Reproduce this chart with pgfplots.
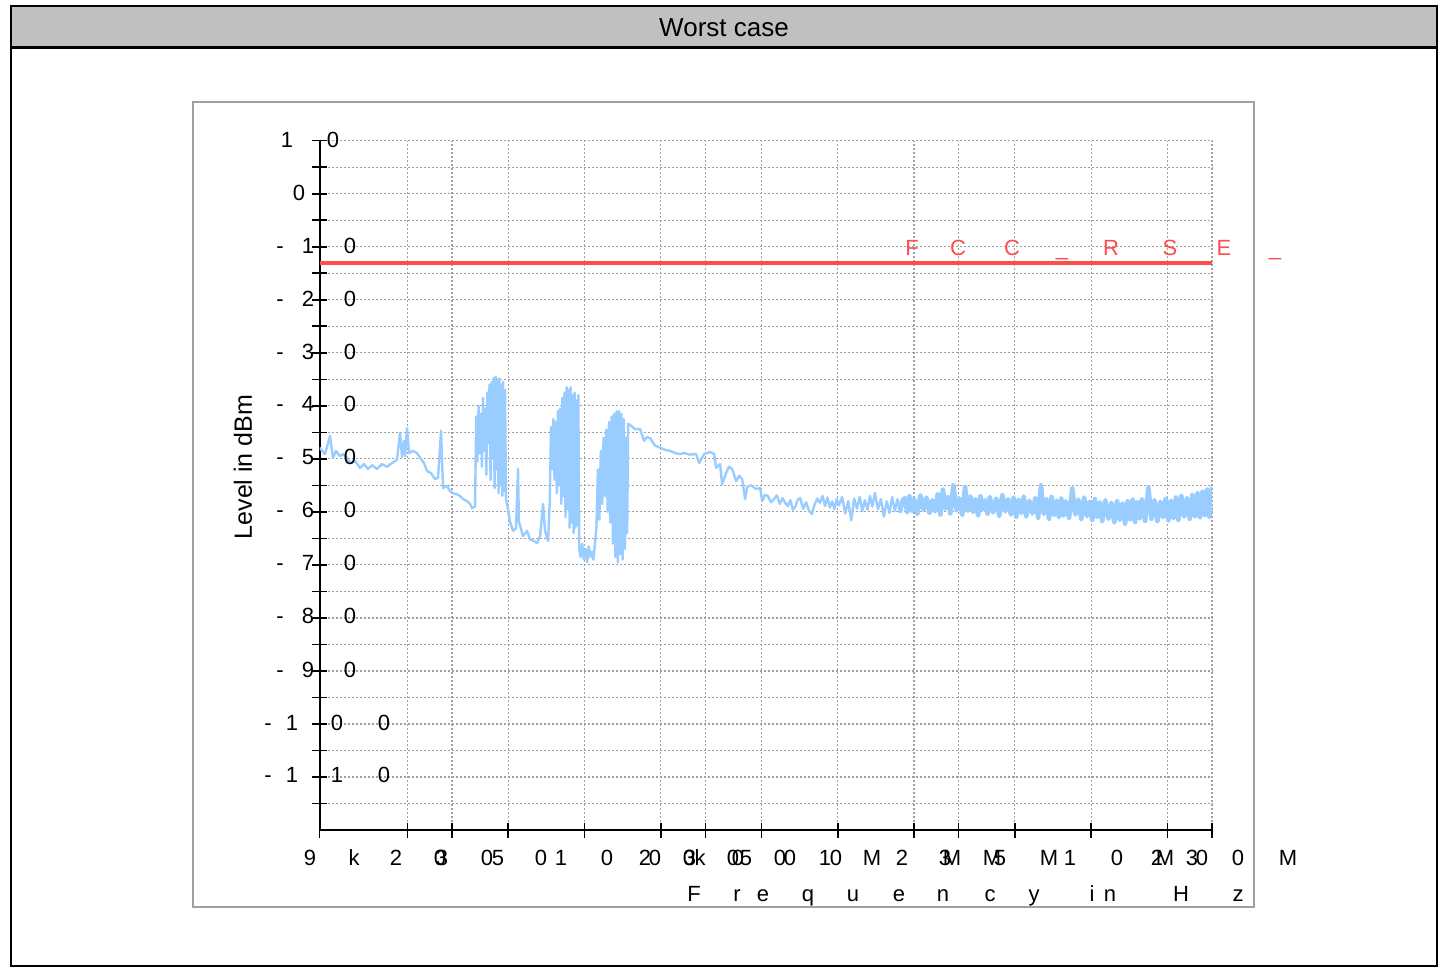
\documentclass[border=0pt]{standalone}
\usepackage{pgfplots}
\usepackage{pgfplotstable}
\pgfplotsset{compat=1.18}
\usepackage{fontspec}
\setmainfont{Liberation Sans}
\definecolor{traceblue}{RGB}{153,204,255}
\definecolor{limitred}{RGB}{255,77,77}
\definecolor{bargray}{RGB}{192,192,192}
\definecolor{gridgray}{RGB}{160,160,160}
\definecolor{panelgray}{RGB}{160,160,160}

% worst case trace, f in kHz, level in dBm: 9 kHz .. 1.8 MHz
\pgfplotstableread{
f L
9.0 -47.9
9.46 -49.1
9.90 -45.7
10.17 -49.8
10.45 -48.5
10.84 -49.5
11.14 -49.1
11.56 -49.8
11.87 -50.8
12.43 -50.4
13.01 -51.7
13.49 -51.0
13.98 -51.9
14.51 -51.2
15.18 -51.9
15.89 -51.0
16.62 -51.5
17.39 -50.8
18.20 -50.2
18.71 -45.1
19.05 -49.6
19.40 -46.6
19.60 -49.5
19.94 -44.2
20.30 -48.9
21.05 -48.5
21.83 -48.9
22.44 -49.8
23.27 -50.8
23.91 -52.3
24.80 -52.7
25.72 -53.8
26.43 -53.6
27.16 -44.7
27.66 -55.5
28.69 -55.1
29.47 -56.1
30.29 -56.5
31.41 -56.7
32.28 -57.0
33.18 -57.6
34.40 -58.0
35.35 -58.5
36.01 -59.3
37.0 -59.0
37.4 -42.0
37.8 -50.5
38.2 -40.0
38.6 -49.0
39.0 -41.5
39.4 -51.5
39.8 -38.5
40.2 -48.5
40.6 -40.5
41.0 -53.0
41.4 -37.5
41.8 -47.0
42.2 -36.0
42.6 -54.0
43.0 -35.5
43.4 -50.0
43.8 -34.8
44.2 -55.5
44.6 -34.5
45.0 -52.0
45.4 -35.0
45.8 -56.5
46.2 -34.8
46.6 -55.0
47.0 -36.0
47.4 -57.0
47.8 -35.5
48.2 -56.0
48.6 -37.0
49.0 -57.6
49.5 -58.5
50.8 -61.8
52.26 -63.6
53.7 -63.1
54.68 -51.9
55.1 -61.8
57.23 -64.6
59.35 -63.6
61.0 -65.2
63.2 -65.5
65.0 -65.9
66.8 -64.6
68.66 -58.5
69.9 -63.6
71.84 -65.5
73.0 -58.0
73.8 -44.0
74.6 -52.0
75.4 -42.5
76.2 -54.0
77.0 -43.0
77.8 -56.5
78.6 -41.0
79.4 -55.0
80.2 -40.5
81.0 -58.5
81.8 -38.5
82.6 -57.0
83.4 -37.5
84.2 -61.0
85.0 -36.5
85.8 -59.5
86.6 -37.0
87.4 -63.0
88.2 -36.5
89.0 -62.0
89.8 -38.0
90.6 -64.0
91.4 -37.5
92.2 -63.0
93.0 -39.0
93.8 -62.5
94.6 -38.0
95.4 -67.0
96.5 -68.5
98.0 -66.0
99.5 -69.0
101.0 -67.0
102.5 -69.5
104.0 -66.5
105.5 -68.5
107.0 -67.5
108.5 -69.0
110.0 -66.0
111.5 -63.0
113.0 -52.0
114.5 -61.5
116.0 -48.5
117.5 -58.5
119.0 -46.0
120.5 -57.0
122.0 -44.5
123.5 -60.0
125.0 -43.0
126.5 -62.0
128.0 -42.0
129.5 -66.0
131.0 -41.5
132.5 -68.5
134.0 -41.0
135.5 -69.5
137.0 -41.0
138.5 -68.0
140.0 -41.5
141.5 -69.0
143.0 -42.5
144.5 -67.0
146.0 -46.0
147.5 -64.0
148.7 -43.4
151.4 -43.6
158.5 -44.4
165.8 -44.4
171.9 -46.6
176.5 -45.9
181.6 -46.1
190.0 -47.5
198.9 -47.9
208.0 -48.3
217.8 -48.5
228.0 -48.9
238.6 -49.1
247.4 -48.9
260.0 -49.2
276.0 -49.1
283.6 -50.8
296.8 -49.1
313.4 -48.7
324.9 -49.1
330.9 -51.7
343.1 -51.0
349.4 -54.8
362.4 -52.7
372.0 -51.5
382.7 -51.9
396.9 -54.2
408.0 -53.2
419.2 -53.8
430.8 -57.6
438.7 -55.3
455.0 -55.0
476.0 -55.7
493.6 -55.5
503 -58.0
515 -56.8
530 -57.0
545 -58.2
560 -57.6
575 -56.9
590 -58.5
605 -57.4
620 -58.3
635 -58.9
650 -57.8
665 -59.6
680 -59.0
695 -57.7
710 -57.4
730 -59.4
750 -58.2
770 -59.8
790 -60.4
810 -58.6
830 -57.5
850 -58.3
870 -57.0
890 -58.9
910 -57.3
930 -59.2
950 -58.0
970 -59.5
990 -57.6
1010 -58.8
1040 -57.2
1070 -60.3
1100 -58.0
1130 -61.6
1160 -57.5
1190 -59.4
1220 -57.2
1250 -59.8
1280 -57.8
1310 -59.6
1340 -57.0
1370 -59.0
1400 -56.4
1440 -59.5
1480 -57.6
1520 -60.9
1560 -58.0
1600 -60.2
1640 -57.2
1680 -59.8
1720 -57.6
1760 -60.1
1800 -57.9
}\tracelow

% 1.8 MHz .. 30 MHz, dense noise band
\pgfplotstableread{
f L
1760 -60.1
1800 -57.9
1840 -57.4
1880 -60.1
1920 -57.0
1960 -59.8
2000 -57.6
2060 -60.4
2120 -56.9
2180 -59.6
2240 -57.3
2300 -60.2
2360 -57.8
2420 -59.9
2480 -56.6
2540 -60.5
2600 -55.8
2660 -59.4
2720 -57.2
2780 -60.3
2860 -55.0
2940 -59.7
3020 -57.5
3100 -60.6
3180 -55.3
3260 -59.8
3340 -57.1
3420 -60.0
3500 -57.6
3580 -60.7
3660 -57.0
3740 -59.5
3820 -57.8
3900 -60.4
3980 -57.2
4100 -60.1
4220 -57.5
4340 -60.8
4460 -56.8
4580 -59.9
4700 -57.6
4820 -60.5
4940 -57.3
5060 -61.0
5180 -57.7
5300 -60.2
5420 -57.1
5540 -60.9
5700 -57.9
5860 -60.3
6020 -57.4
6180 -61.1
6340 -55.0
6500 -60.4
6660 -57.6
6820 -61.3
6980 -57.2
7140 -60.6
7300 -57.9
7460 -61.0
7620 -57.5
7780 -60.7
7940 -58.0
8180 -61.2
8420 -55.6
8660 -60.5
8900 -57.7
9140 -61.4
9380 -57.3
9620 -60.8
9860 -58.1
10100 -61.6
10340 -57.6
10580 -61.0
10820 -58.2
11060 -61.8
11380 -57.8
11700 -61.3
12020 -58.3
12340 -62.0
12660 -57.9
12980 -61.5
13300 -58.4
13620 -62.2
13940 -58.0
14260 -61.4
14580 -57.7
14900 -61.9
15220 -58.2
15540 -61.2
15860 -57.6
16340 -61.7
16820 -55.4
17300 -61.3
17780 -57.8
18260 -61.8
18740 -58.1
19220 -61.0
19700 -57.5
20180 -61.6
20660 -57.9
21140 -61.2
21620 -57.3
22100 -61.5
22700 -57.0
23300 -60.9
23900 -57.4
24500 -61.3
25100 -56.8
25700 -60.8
26300 -56.5
26900 -61.0
27500 -56.2
28100 -60.6
28700 -55.8
29300 -60.9
29900 -55.6
30000 -60.0
}\tracehigh

\begin{document}
\begin{tikzpicture}
\tikzset{tl/.style={anchor=base, inner sep=0pt, font=\fontsize{11}{13}\selectfont}}
% frame and title bar, in pixel units
\begin{scope}[x=0.5pt,y=-0.5pt]
\useasboundingbox (0,0) rectangle (1445,967);
\fill[white] (0,0) rectangle (1445,967);
\fill[bargray] (11,6) rectangle (1437,48);
\draw[black, line width=1.5pt] (11,48) -- (1437,48);
\draw[black, line width=1pt] (11,6) rectangle (1437,966);
\node[font=\fontsize{13}{15}\selectfont] at (724,28) {Worst case};
\draw[panelgray, line width=1pt] (193,102) rectangle (1254,907);
\end{scope}

\begin{axis}[
  at={(159.75pt,-415pt)}, anchor=south west,
  scale only axis, width=446.25pt, height=344.65pt,
  xmode=log, xmin=9, xmax=30000, ymin=-120, ymax=10,
  axis lines=left,
  axis line style={-, black, line width=1pt},
  every outer x axis line/.append style={-},
  every outer y axis line/.append style={-},
  xtick={9,20,30,50,100,200,300,500,1000,2000,3000,5000,10000,20000,30000},
  minor xtick={},
  ytick={-110,-100,...,10},
  minor ytick={-115,-105,...,5},
  xticklabels={}, yticklabels={},
  tick align=center,
  major tick length=7.5pt, minor tick length=7.5pt,
  every tick/.style={black, line width=0.8pt},
  grid=both,
  major grid style={gridgray, line width=0.6pt, dash pattern=on 1pt off 1pt},
  minor grid style={gridgray, line width=0.6pt, dash pattern=on 1pt off 1pt},
]
\addplot[limitred, line width=2pt] coordinates {(9,-13) (30000,-13)};
\addplot[traceblue, line width=1.2pt, line join=round] table[x=f, y=L] {\tracelow};
\addplot[traceblue, line width=2.3pt, line join=round] table[x=f, y=L] {\tracehigh};
\end{axis}

% labels, in pixel units
\begin{scope}[x=0.5pt,y=-0.5pt]
\node[rotate=90, font=\fontsize{12.5}{15}\selectfont] at (243,467) {Level in dBm};
\node[tl] at (287,148) {1}; \node[tl] at (333,148) {0};
\node[tl] at (299,201) {0};
\foreach \d/\b in {1/254,2/307,3/360,4/412,5/465,6/518,7/571,8/624,9/677}{
  \node[tl] at (280,\b) {-}; \node[tl] at (308,\b) {\d}; \node[tl] at (350,\b) {0};
}
\node[tl] at (268,730) {-}; \node[tl] at (292,730) {1}; \node[tl] at (337,730) {0}; \node[tl] at (384,730) {0};
\node[tl] at (268,782) {-}; \node[tl] at (292,782) {1}; \node[tl] at (337,782) {1}; \node[tl] at (384,782) {0};
\foreach \p/\c in {310/9,354/k,396/2,440/0,442/3,487/0,498/5,541/0,561/1,607/0,645/2,655/0,689/0,690/3,700/k,733/0,738/0,746/5,780/0,790/0,825/1,836/0,872/M,902/2,945/3,952/M,992/M,1000/5,1049/M,1070/1,1117/0,1157/2,1165/M,1192/3,1202/0,1238/0,1288/M}{
  \node[tl] at (\p,865) {\c};
}
\foreach \p/\c in {694/F,737/r,763/e,808/q,853/u,899/e,943/n,990/c,1034/y,1092/i,1110/n,1181/H,1238/z}{
  \node[tl] at (\p,901) {\c};
}
\foreach \p/\c in {912/F,958/C,1012/C,1062/\_,1111/R,1170/S,1224/E,1275/\_}{
  \node[tl, text=limitred] at (\p,256) {\c};
}
\end{scope}
\end{tikzpicture}
\end{document}
